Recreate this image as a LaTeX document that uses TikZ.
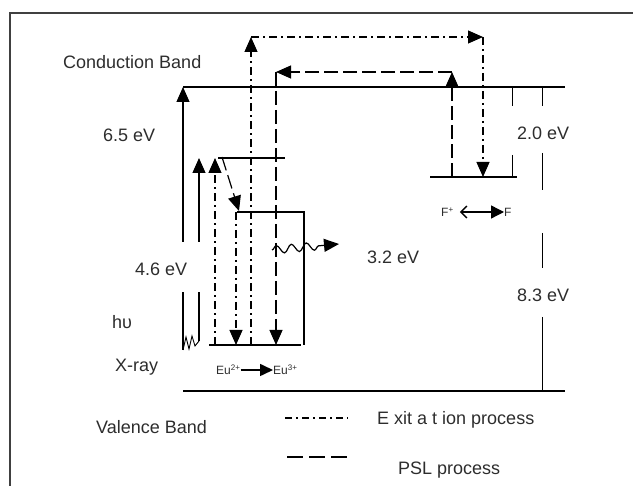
\documentclass[tikz,border=0pt]{standalone}
\usepackage{fontspec}
\setmainfont{Liberation Sans}
\usetikzlibrary{arrows.meta, positioning, decorations.pathmorphing}
\definecolor{txtgray}{RGB}{45,45,45}

\begin{document}
\begin{tikzpicture}[x=1pt, y=-1pt,
    lvl/.style={line width=1.2pt},
    tip/.style={-{Triangle[length=15pt, width=13pt]}},
    excite/.style={line width=1.2pt, dash pattern=on 8pt off 4pt on 2pt off 4pt},
    psl/.style={line width=1.2pt, dash pattern=on 14pt off 5pt},
    lbl/.style={font=\fontsize{18}{21}\selectfont, text=txtgray, inner sep=0pt, anchor=west},
    ionlbl/.style={font=\fontsize{12}{14}\selectfont, text=txtgray, inner sep=0pt}
  ]
    \useasboundingbox (0,0) rectangle (633,486);
    \draw[line width=1.3pt, black!75] (10,486) -- (10,13) -- (633,13);

    % band edges and levels
    \coordinate (cbL) at (183,87);     \coordinate (cbR) at (565,87);
    \coordinate (vbL) at (183,391);    \coordinate (vbR) at (565,391);
    \coordinate (topL) at (218,158);   \coordinate (topR) at (285,158);
    \coordinate (midL) at (237,212);   \coordinate (midR) at (304,212);
    \coordinate (gndL) at (209,345);   \coordinate (gndR) at (301,345);
    \coordinate (fL) at (430,177);     \coordinate (fR) at (517,177);
    \draw[lvl] (cbL) -- (cbR);
    \draw[lvl] (vbL) -- (vbR);
    \draw[lvl] (topL) -- (topR);
    \draw[lvl] (midL) -- (midR) -- (midR |- gndR);
    \draw[lvl] (gndL) -- (gndR);
    \draw[lvl] (fL) -- (fR);

    % X-ray absorption
    \coordinate (hvA) at (183,350);    \coordinate (hvB) at (199,341);
    \coordinate (gapLo) at (0,292);    \coordinate (gapHi) at (0,242);
    \draw[lvl, tip] (cbL |- gapHi) -- (cbL);
    \draw[lvl] (hvA) -- (hvA |- gapLo);
    \draw[lvl, tip] (hvB |- gapHi) -- (hvB |- topL);
    \draw[lvl] (hvB) -- (hvB |- gapLo);
    \draw[line width=0.9pt] (hvA) -- (186,337) -- (189,349) -- (192,336) -- (195,346) -- (hvB);

    % excitation process
    \coordinate (exA) at (215,345);    \coordinate (exB) at (236,212);
    \coordinate (exC) at (251,345);    \coordinate (exTop) at (251,37);
    \coordinate (exTopR) at (483,37);  \coordinate (exF) at (483,177);
    \draw[excite, tip] (exA) -- (exA |- topL);
    \draw[excite, tip] (exB) -- (exB |- gndL);
    \draw[excite, tip] (exC) -- (exTop);
    \draw[excite, tip] (exTop) -- (exTopR);
    \draw[excite, tip] (exTopR) -- (exF);

    % PSL process
    \coordinate (pslF) at (452,177);   \coordinate (pslTop) at (452,72);
    \coordinate (pslTopL) at (276,72); \coordinate (pslGnd) at (276,345);
    \draw[psl, tip] (222,157) -- (239,211);
    \draw[psl, tip] (pslF) -- (pslTop);
    \draw[psl, tip] (pslTop) -- (pslTopL);
    \draw[psl, tip] (pslTopL) -- (pslGnd);

    % emission
    \coordinate (wavS) at (272,250);   \coordinate (wavE) at (339,244);
    \draw[lvl, tip, decorate, decoration={snake, amplitude=4pt, segment length=15pt, post length=14pt}] (wavS) -- (wavE);

    % energy gap markers
    \foreach \xk/\ya/\yb in {512/87/106, 512/155/177, 542/87/106, 542/153/190, 542/233/268, 542/317/391}
      \draw[line width=1pt] (\xk,\ya) -- (\xk,\yb);

    % labels
    \node[lbl] (cbtxt) at (63,62) {Conduction Band};
    \node[lbl] (vbtxt) at (96,427) {Valence Band};
    \node[lbl] (e65) at (103,135) {6.5 eV};
    \node[lbl] (e46) at (135,269) {4.6 eV};
    \node[lbl] (e32) at (367,257) {3.2 eV};
    \node[lbl] (e20) at (517,133) {2.0 eV};
    \node[lbl] (e83) at (517,295) {8.3 eV};
    \node[lbl] (hv) at (112,322) {hυ};
    \node[lbl] (xray) at (115,367) {X-ray};

    % ion conversion
    \node[ionlbl, anchor=west] (eu2) at (216,370) {Eu\textsuperscript{2+}};
    \node[ionlbl, anchor=west] (eu3) at (273,370) {Eu\textsuperscript{3+}};
    \draw[line width=1.6pt, -{Triangle[length=13pt, width=12pt]}] (eu2.east) -- (eu3.west);
    \node[ionlbl, anchor=west] (fplus) at (441,212) {F\textsuperscript{+}};
    \node[ionlbl, anchor=west] (fneu) at (504,212) {F};
    \draw[line width=1.4pt, {Straight Barb[length=6pt, width=12pt]}-{Triangle[length=13pt, width=13pt]},
      shorten <=6pt] (fplus.east) -- (fneu.west);

    % legend
    \coordinate (legExS) at (285,418); \coordinate (legExE) at (348,418);
    \coordinate (legPsS) at (287,457); \coordinate (legPsE) at (350,457);
    \draw[line width=1.1pt, dash pattern=on 7pt off 4pt on 2pt off 4pt] (legExS) -- (legExE);
    \draw[line width=1.1pt, dash pattern=on 16pt off 6pt] (legPsS) -- (legPsE);
    \node[lbl] (extxt) at (377,420) {E xit a t ion process};
    \node[lbl] (psltxt) at (398,470) {PSL process};
  \end{tikzpicture}
\end{document}
